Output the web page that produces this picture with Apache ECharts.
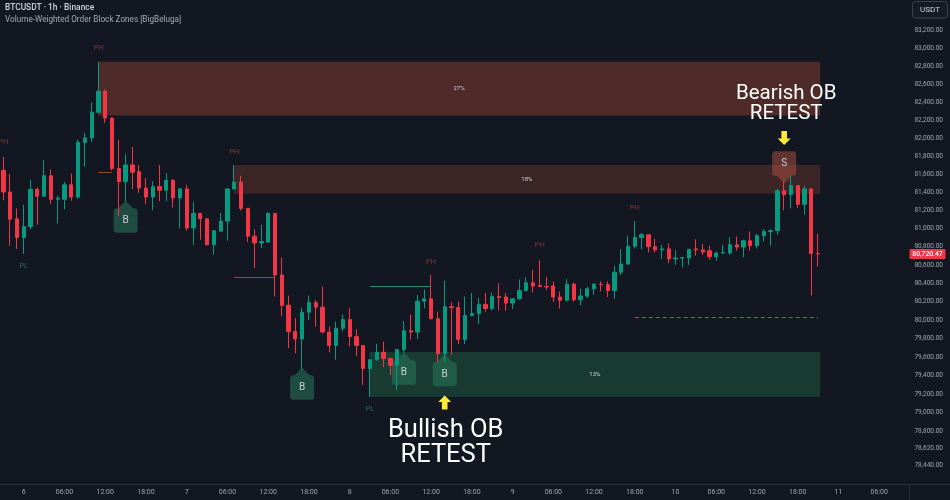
<!DOCTYPE html>
<html><head><meta charset="utf-8">
<script src="https://cdn.jsdelivr.net/npm/echarts@6/dist/echarts.min.js"></script>
<style>html,body{margin:0;padding:0;background:#131722;}#c{width:950px;height:500px;}</style>
</head><body><div id="c"></div>
<script>
// ---------- DATA ----------
const opens  = [81640,81400,81105,80900,81020,81430,81355,81580,81320,81320,81480,81345,81950,82000,82285,82520,82220,81660,81515,81700,
81625,81445,81345,81460,81420,81530,81335,81435,81005,81165,81105,80820,80970,81080,81435,81510,81220,80915,80840,80850,
81165,80490,80160,79875,79795,80085,80190,80140,79870,79725,79910,80005,79820,79725,79475,79570,79650,79585,79510,79680,
79885,79870,80205,80230,80015,79635,80145,80135,79790,80050,80070,80170,80125,80255,80250,80185,80230,80320,80405,80375,
80365,80370,80250,80215,80390,80220,80260,80340,80390,80385,80320,80520,80610,80805,80900,80930,80800,80765,80775,80665,
80675,80675,80775,80765,80755,80690,80730,80730,80820,80795,80865,80810,80920,80965,80975,81415,81370,81470,81265,81435,80725];
const highs  = [81790,81600,81220,81260,81535,81450,81755,81650,81360,81515,81605,81980,82055,82395,82850,82540,82225,81980,81820,81900,
81700,81555,81520,81700,81610,81540,81440,81480,81290,81170,81110,80980,81170,81440,81700,81580,81225,80990,81040,81180,
81170,80680,80265,80020,80135,80265,80220,80365,79930,79985,80060,80130,79900,79730,79580,79740,79765,79590,79685,79990,
80060,80270,80330,80490,80090,80430,80195,80200,80255,80295,80240,80295,80300,80400,80295,80235,80440,80465,80545,80650,
80470,80420,80310,80445,80405,80340,80365,80400,80420,80420,80590,80770,80920,81080,80950,80935,80885,80820,80835,80765,
80685,80775,80880,80830,80810,80745,80820,80905,80910,80875,80965,80940,80990,80990,81435,81520,81580,81475,81470,81445,80940];
const lows   = [81310,80810,80775,80720,80990,81040,81350,81270,81055,81210,81305,81325,81680,81955,82280,82165,81640,81135,81300,81430,
81390,81270,81200,81300,81300,81230,81000,80975,80820,80875,80815,80710,80965,80865,81425,81195,80850,80565,80785,80840,
80255,80045,79695,79640,79460,80000,79930,79855,79650,79570,79880,79715,79610,79300,79170,79560,79490,79405,79240,79645,
79790,79790,80125,80005,79545,79550,79625,79740,79740,80040,79955,80090,80105,80105,80100,80120,80220,80310,80300,80360,
80325,80195,80125,80200,80200,80160,80240,80275,80310,80250,80230,80490,80605,80780,80770,80735,80735,80665,80620,80600,
80570,80600,80700,80710,80655,80645,80720,80710,80755,80685,80755,80780,80855,80810,80930,81200,81220,81225,81150,80265,80580];
const closes = [81400,81100,80900,81020,81430,81355,81580,81320,81330,81480,81345,81950,82000,82285,82520,82220,81660,81515,81700,81620,
81445,81345,81460,81420,81530,81335,81435,81005,81165,81105,80820,80975,81080,81435,81510,81220,80915,80840,80855,81165,
80490,80160,79875,79795,80085,80190,80140,79870,79725,79910,80005,79820,79725,79475,79570,79650,79585,79510,79680,79885,
79870,80205,80230,80015,79635,80145,80135,79790,80050,80070,80170,80125,80255,80245,80185,80230,80320,80405,80370,80365,
80360,80250,80215,80390,80220,80260,80340,80390,80385,80320,80520,80610,80805,80900,80930,80800,80765,80775,80665,80675,
80680,80770,80765,80740,80690,80730,80735,80820,80795,80865,80810,80920,80965,80975,81415,81370,81470,81265,81435,80725,80720.47];

// x axis: hourly slots from the 5th 21:00; tick labels every 6 hours from the 6th 00:00
const firstDay = 5, firstHour = 21, slotCount = 133, firstTickSlot = 3;
const xTickLabels = ['6','06:00','12:00','18:00','7','06:00','12:00','18:00','8','06:00','12:00','18:00',
                     '9','06:00','12:00','18:00','10','06:00','12:00','18:00','11','06:00'];
// y axis (log price scale)
const yTicks = [83200,83000,82800,82600,82400,82200,82000,81800,81600,81400,81200,81000,80800,80600,80400,80200,
                80000,79800,79600,79400,79200,79000,78800,78620,78440];
const yRange = [78231, 83547];

// order block zones
const zoneStart  = [14, 34, 54];
const zoneEnd    = [120, 120, 120];
const zoneTop    = [82850, 81700, 79655];
const zoneBottom = [82250, 81380, 79170];
const zoneLabel  = ['27%', '18%', '13%'];
const zoneKind   = ['bear', 'bear', 'bull'];

// horizontal level lines
const segStart = [14, 34, 54, 93];
const segEnd   = [16, 40, 63, 120];
const segPrice = [81624, 80465, 80373, 80030];
const segKind  = ['bear', 'bear', 'bull', 'bearDash'];

// pivot labels
const pivotIdx   = [0, 3, 14, 34, 54, 63, 79, 93];
const pivotText  = ['PH', 'PL', 'PH', 'PH', 'PL', 'PH', 'PH', 'PH'];
const pivotPrice = [81954, 80588, 83005, 81843, 79041, 80632, 80818, 81224];

// retest markers (tip anchored at price)
const markerIdx   = [18, 44, 59, 65, 115];
const markerPrice = [81305, 79485, 79647, 79629, 81497];
const markerText  = ['B', 'B', 'B', 'B', 'S'];

// yellow arrows (tip anchored at price)
const arrowIdx   = [65, 115];
const arrowPrice = [79185, 81921];
const arrowDir   = ['up', 'down'];

// annotation texts
const annoIdx   = [115, 115, 65, 65];
const annoPrice = [82489, 82266, 78816, 78550];
const annoText  = ['Bearish OB', 'RETEST', 'Bullish OB', 'RETEST'];

const lastPrice = 80720.47;

// ---------- BUILD ----------
const ln = Math.log;
const categories = [];
for (let i = 0; i < slotCount; i++) {
  const t = firstHour + i;
  const d = firstDay + Math.floor(t / 24), h = t % 24;
  categories.push(d + ' ' + String(h).padStart(2, '0') + ':00');
}
const candleData = opens.map((o, i) => [ln(o), ln(closes[i]), ln(lows[i]), ln(highs[i])]);
function fmt(n) {
  const s = n.toFixed(2).split('.');
  return s[0].replace(/\B(?=(\d{3})+(?!\d))/g, ',') + '.' + s[1];
}
const FONT = 'Roboto';
const UP = '#089981', DOWN = '#f23645';

const chart = echarts.init(document.getElementById('c'), null, {renderer: 'canvas'});
chart.setOption({
  backgroundColor: '#131722',
  animation: false,
  textStyle: {fontFamily: FONT},
  grid: {left: 0, right: 47, top: 0, bottom: 15, outerBoundsMode: 'none', containLabel: false},
  xAxis: {
    type: 'category', data: categories, boundaryGap: true,
    axisLine: {show: false}, axisTick: {show: false}, splitLine: {show: false},
    axisLabel: {
      color: '#a3a6af', fontSize: 7, margin: 4, fontFamily: FONT,
      interval: (idx) => idx >= firstTickSlot && (idx - firstTickSlot) % 6 === 0,
      formatter: (v, idx) => xTickLabels[(idx - firstTickSlot) / 6] || ''
    }
  },
  yAxis: {
    type: 'value', position: 'right', scale: true,
    min: ln(yRange[0]), max: ln(yRange[1]),
    axisLine: {show: false}, axisTick: {show: false}, splitLine: {show: false},
    axisLabel: {
      customValues: yTicks.map(ln),
      color: '#a3a6af', fontSize: 6.5, align: 'right', margin: 40, fontFamily: FONT,
      formatter: (v) => {
        const p = Math.exp(v);
        let best = yTicks[0];
        yTicks.forEach(t => { if (Math.abs(t - p) < Math.abs(best - p)) best = t; });
        return fmt(best);
      }
    }
  },
  graphic: [
    {type: 'text', left: 5, top: 4, style: {text: 'BTCUSDT · 1h · Binance', fill: '#d1d4dc', font: '500 8.4px ' + FONT}},
    {type: 'text', left: 5, top: 15.5, style: {text: 'Volume-Weighted Order Block Zones [BigBeluga]', fill: '#a8abb3', font: '8.2px ' + FONT}},
    {type: 'rect', shape: {x: 912.5, y: 1.5, width: 35, height: 16.5, r: 3}, style: {fill: '#181b24', stroke: '#3c404b', lineWidth: 1}},
    {type: 'text', x: 930, y: 10, style: {text: 'USDT', fill: '#d1d4dc', font: '8px ' + FONT, align: 'center', verticalAlign: 'middle'}},
    {type: 'line', shape: {x1: 0, y1: 484.5, x2: 950, y2: 484.5}, style: {stroke: '#2a2e39', lineWidth: 1}},
    {type: 'line', shape: {x1: 909.5, y1: 485, x2: 909.5, y2: 500}, style: {stroke: '#2a2e39', lineWidth: 1}}
  ],
  series: [
    {
      type: 'candlestick', name: 'BTCUSDT', data: candleData, barWidth: 3.8,
      itemStyle: {color: UP, color0: DOWN, borderColor: UP, borderColor0: DOWN, borderWidth: 1}
    },
    { // zones
      type: 'custom', name: 'zones',
      data: zoneStart.map((s, k) => [s, ln(zoneTop[k]), zoneEnd[k], ln(zoneBottom[k])]),
      encode: {x: [0, 2], y: [1, 3]},
      renderItem: (params, api) => {
        const k = params.dataIndex;
        const p1 = api.coord([zoneStart[k], ln(zoneTop[k])]);
        const p2 = api.coord([zoneEnd[k], ln(zoneBottom[k])]);
        const x1 = p1[0] - 0.5, x2 = p2[0] + 2;
        const fill = zoneKind[k] === 'bull' ? 'rgba(45,165,95,0.25)'
          : (k === 0 ? 'rgba(180,80,55,0.37)' : 'rgba(180,80,55,0.25)');
        return {type: 'group', children: [
          {type: 'rect', shape: {x: x1, y: p1[1], width: x2 - x1, height: p2[1] - p1[1]}, style: {fill: fill}},
          {type: 'text', style: {text: zoneLabel[k], x: (x1 + x2) / 2, y: (p1[1] + p2[1]) / 2, align: 'center', verticalAlign: 'middle',
            fill: '#d1d4dc', font: '6px ' + FONT}}
        ]};
      }
    },
    { // level lines
      type: 'custom', name: 'levels',
      data: segStart.map((s, k) => [s, ln(segPrice[k]), segEnd[k]]),
      encode: {x: [0, 2], y: 1},
      renderItem: (params, api) => {
        const k = params.dataIndex;
        const a = api.coord([segStart[k], ln(segPrice[k])]);
        const b = api.coord([segEnd[k], ln(segPrice[k])]);
        const kind = segKind[k];
        const stroke = kind === 'bull' ? '#2a8f6b' : (kind === 'bearDash' ? '#a1574b' : '#97473d');
        const y = Math.round(a[1]) + 0.5;
        return {type: 'line', shape: {x1: a[0], y1: y, x2: b[0], y2: y},
          style: {stroke: stroke, lineWidth: 1, lineDash: kind === 'bearDash' ? [4, 3] : null}};
      }
    },
    { // pivot labels
      type: 'custom', name: 'pivots',
      data: pivotIdx.map((s, k) => [s, ln(pivotPrice[k])]),
      renderItem: (params, api) => {
        const k = params.dataIndex;
        const p = api.coord([pivotIdx[k], ln(pivotPrice[k])]);
        return {type: 'text', style: {text: pivotText[k], x: p[0], y: p[1], align: 'center', verticalAlign: 'middle',
          fill: pivotText[k] === 'PH' ? '#7e3a36' : '#2b6b56', font: '7.5px ' + FONT}};
      }
    },
    { // retest markers
      type: 'custom', name: 'markers',
      data: markerIdx.map((s, k) => [s, ln(markerPrice[k])]),
      renderItem: (params, api) => {
        const k = params.dataIndex;
        const p = api.coord([markerIdx[k], ln(markerPrice[k])]);
        const cx = p[0], ty = p[1];
        const bw = 24, bh = 24.4, ph = 7.6, pw = 7.5, r = 3;
        const up = markerText[k] === 'B';
        const s = up ? 1 : -1;
        const top = ty + s * ph, bot = top + s * bh;
        const L = cx - bw / 2, R = cx + bw / 2;
        const d = 'M' + cx + ' ' + ty + ' L' + (cx + pw) + ' ' + top + ' L' + (R - r) + ' ' + top +
          ' Q' + R + ' ' + top + ' ' + R + ' ' + (top + s * r) + ' L' + R + ' ' + (bot - s * r) +
          ' Q' + R + ' ' + bot + ' ' + (R - r) + ' ' + bot + ' L' + (L + r) + ' ' + bot +
          ' Q' + L + ' ' + bot + ' ' + L + ' ' + (bot - s * r) + ' L' + L + ' ' + (top + s * r) +
          ' Q' + L + ' ' + top + ' ' + (L + r) + ' ' + top + ' L' + (cx - pw) + ' ' + top + ' Z';
        const fill = up ? 'rgba(40,125,92,0.52)' : 'rgba(178,82,62,0.5)';
        return {type: 'group', children: [
          {type: 'path', shape: {pathData: d}, style: {fill: fill}},
          {type: 'text', style: {text: markerText[k], x: cx, y: (top + bot) / 2, align: 'center', verticalAlign: 'middle',
            fill: '#c9cdd3', font: '10px ' + FONT}}
        ]};
      }
    },
    { // yellow arrows
      type: 'custom', name: 'arrows',
      data: arrowIdx.map((s, k) => [s, ln(arrowPrice[k])]),
      renderItem: (params, api) => {
        const k = params.dataIndex;
        const p = api.coord([arrowIdx[k], ln(arrowPrice[k])]);
        const cx = p[0], ty = p[1], s = arrowDir[k] === 'up' ? 1 : -1;
        const hh = 6.5, hw = 6.5, sw = 2.8, len = 14;
        const pts = [[cx, ty], [cx + hw, ty + s * hh], [cx + sw, ty + s * hh], [cx + sw, ty + s * len],
          [cx - sw, ty + s * len], [cx - sw, ty + s * hh], [cx - hw, ty + s * hh]];
        return {type: 'polygon', shape: {points: pts}, style: {fill: '#ffe93b'}};
      }
    },
    { // annotation texts
      type: 'custom', name: 'annotations',
      data: annoIdx.map((s, k) => [s, ln(annoPrice[k])]),
      renderItem: (params, api) => {
        const k = params.dataIndex;
        const p = api.coord([annoIdx[k], ln(annoPrice[k])]);
        const size = k < 2 ? 20.5 : 25.5;
        return {type: 'text', style: {text: annoText[k], x: p[0] + (k < 2 ? 2 : 1), y: p[1] + (k < 2 ? 0 : 1), align: 'center', verticalAlign: 'middle',
          fill: '#ffffff', font: size + 'px ' + FONT}};
      }
    },
    { // last price label on the price scale
      type: 'custom', name: 'lastPrice',
      data: [[opens.length - 1, ln(lastPrice)]],
      renderItem: (params, api) => {
        const p = api.coord([opens.length - 1, ln(lastPrice)]);
        const gx = params.coordSys.x + params.coordSys.width;
        return {type: 'group', children: [
          {type: 'rect', shape: {x: gx + 6.5, y: p[1] - 5, width: 36, height: 10, r: 1}, style: {fill: '#f23645'}},
          {type: 'text', style: {text: fmt(lastPrice), x: gx + 24.5, y: p[1], align: 'center', verticalAlign: 'middle',
            fill: '#ffffff', font: '500 6.8px ' + FONT}}
        ]};
      }
    }
  ]
});
</script>
</body></html>
